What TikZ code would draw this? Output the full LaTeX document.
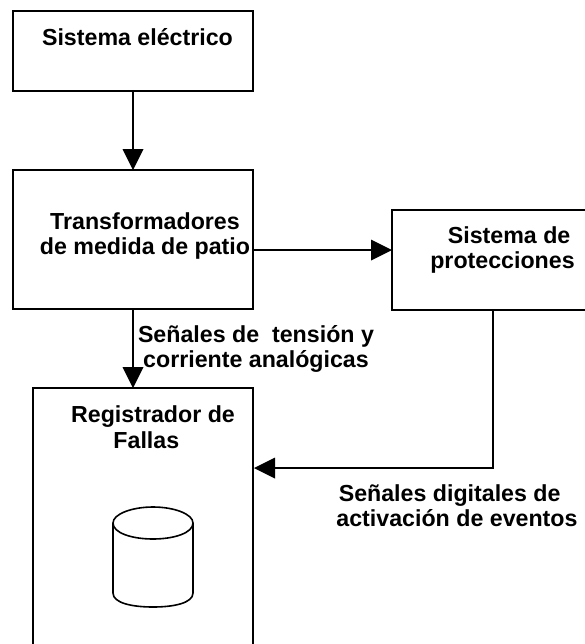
\documentclass[tikz,border=0pt]{standalone}
\usepackage{fontspec}
\setmainfont{Liberation Sans}
\tikzset{
  px/.style={x=0.75pt,y=-0.75pt},
  box/.style={draw=black,line width=2pt,fill=none},
  conn/.style={draw=black,line width=1.9pt},
  tip/.style={fill=black,draw=none},
  lab/.style={font=\fontsize{17.4pt}{19.2pt}\selectfont\bfseries,inner sep=0pt,align=center,text=black},
  cyl/.style={draw=black,line width=1.2pt,fill=none}
}
\begin{document}
\begin{tikzpicture}[px]
\useasboundingbox (0,0) rectangle (585,644);
\begin{scope}
\clip (0,0) rectangle (585,644);
\draw[box] (13,11) rectangle (253,91);
\draw[box] (13,170) rectangle (253,309);
\draw[box] (392,210) rectangle (600,310);
\draw[box] (33,388) rectangle (253,660);
\end{scope}
\coordinate (s) at (133,91);
\coordinate (tt) at (133,170);
\coordinate (tr) at (253,250);
\coordinate (pl) at (392,250);
\coordinate (tb) at (133,309);
\coordinate (rt) at (133,388);
\coordinate (pb) at (493,310);
\coordinate (corner) at (493,468);
\coordinate (rr) at (254,468);
\draw[conn] (s) -- (133,150);
\fill[tip] (tt) -- (122.5,149) -- (143.5,149) -- cycle;
\draw[conn] (tr) -- (372,250);
\fill[tip] (pl) -- (371,239.5) -- (371,260.5) -- cycle;
\draw[conn] (tb) -- (133,368);
\fill[tip] (rt) -- (122.5,367) -- (143.5,367) -- cycle;
\draw[conn] (pb) -- (corner) -- (274,468);
\fill[tip] (rr) -- (275,457.5) -- (275,478.5) -- cycle;
\node[lab] (n1) at (137.5,37) {Sistema eléctrico};
\node[lab] (n2) at (145,236) {Transformadores\\de medida de patio};
\node[lab] (n3) at (502.5,250) {\hspace{10pt}Sistema de\\protecciones};
\node[lab] (n4) at (256,349) {Señales de\ \ tensión y\\corriente analógicas};
\node[lab] (n5) at (153,427) {Registrador de\\Fallas\mbox{\hspace{10pt}}};
\node[lab] (n6) at (457,505.5) {Señales digitales de\mbox{\hspace{11pt}}\\activación de eventos};
\draw[cyl] (113,523) .. controls (113,514) and (132,507) .. (153,507) .. controls (174,507) and (193,514) .. (193,523) .. controls (193,533) and (174,539) .. (153,539) .. controls (132,539) and (113,533) .. (113,523) -- cycle;
\draw[cyl] (113,523) -- (113,593) .. controls (113,603) and (132,607) .. (153,607) .. controls (174,607) and (193,603) .. (193,593) -- (193,523);
\end{tikzpicture}
\end{document}
